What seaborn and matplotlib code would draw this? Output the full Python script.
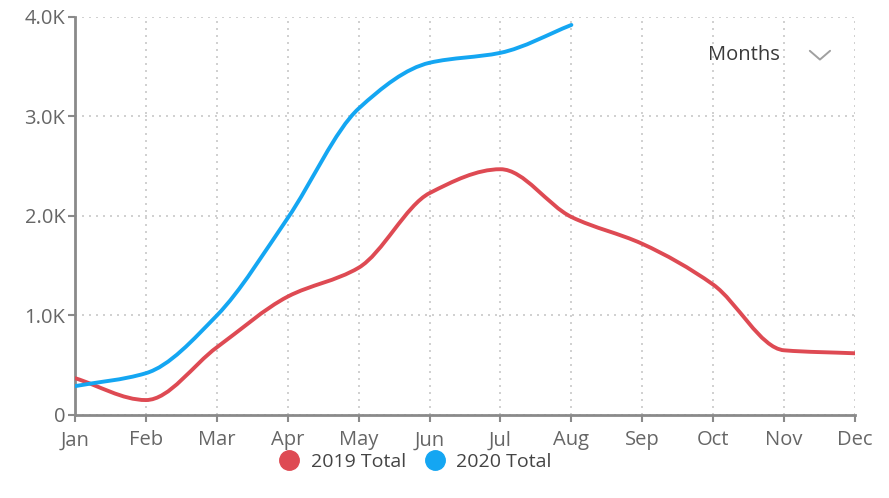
import numpy as np
import matplotlib
matplotlib.use("Agg")
import matplotlib.pyplot as plt
from matplotlib.path import Path
from matplotlib.patches import PathPatch
from matplotlib.lines import Line2D
import seaborn as sns

months = ["Jan", "Feb", "Mar", "Apr", "May", "Jun", "Jul", "Aug", "Sep", "Oct", "Nov", "Dec"]
total_2019 = [370, 150, 680, 1190, 1480, 2230, 2470, 1990, 1720, 1310, 650, 620]
total_2020 = [290, 420, 1000, 1980, 3080, 3540, 3640, 3920]
y_ticks = [0, 1000, 2000, 3000, 4000]
y_labels = ["0", "1.0K", "2.0K", "3.0K", "4.0K"]

RED = "#DE4A53"
BLUE = "#14A6F2"
GREY = "#8a8a8a"

sns.set_style("white")
plt.rcParams["font.family"] = ["Open Sans", "DejaVu Sans"]


def smooth_path(xs, ys):
    # monotone cubic (fritsch-carlson) drawn as bezier segments
    x = np.asarray(xs, float)
    y = np.asarray(ys, float)
    n = len(x)
    h = np.diff(x)
    d = np.diff(y) / h
    m = np.zeros(n)
    m[0], m[-1] = d[0], d[-1]
    for i in range(1, n - 1):
        if d[i - 1] * d[i] <= 0:
            m[i] = 0
        else:
            m[i] = 2 / (1 / d[i - 1] + 1 / d[i])
    verts = [(x[0], y[0])]
    codes = [Path.MOVETO]
    for i in range(n - 1):
        verts += [(x[i] + h[i] / 3, y[i] + m[i] * h[i] / 3),
                  (x[i + 1] - h[i] / 3, y[i + 1] - m[i + 1] * h[i] / 3),
                  (x[i + 1], y[i + 1])]
        codes += [Path.CURVE4] * 3
    return Path(verts, codes)


fig = plt.figure(figsize=(8.89, 4.98), dpi=100)
ax = fig.add_axes([0.0844, 0.1667, 0.8774, 0.7992])

for vals, col in [(total_2019, RED), (total_2020, BLUE)]:
    p = smooth_path(range(len(vals)), vals)
    ax.add_patch(PathPatch(p, facecolor="none", edgecolor=col, lw=2.8, capstyle="round", zorder=3))

ax.set_xlim(0, 11)
ax.set_ylim(0, 4000)
ax.set_xticks(range(len(months)))
ax.set_xticklabels(months)
ax.set_yticks(y_ticks)
ax.set_yticklabels(y_labels)

ax.grid(True, color="#c8c8c8", linestyle=(0, (1.2, 3)), linewidth=1.2)
for s in ["top", "right"]:
    ax.spines[s].set_visible(False)
for s in ["left", "bottom"]:
    ax.spines[s].set_color(GREY)
    ax.spines[s].set_linewidth(2)
ax.tick_params(axis="both", colors=GREY, labelcolor="#666666", labelsize=14.5,
               length=5, width=1.5, direction="out", left=True, bottom=True)
ax.tick_params(axis="y", pad=2)
ax.tick_params(axis="x", pad=6)

ax.text(0.858, 0.905, "Months", transform=ax.transAxes, fontsize=14.5, color="#3a3a3a",
        ha="center", va="center")
# dropdown chevron
ax.plot([0.942, 0.955, 0.968], [0.915, 0.893, 0.915], transform=ax.transAxes,
        color="#a0a0a0", lw=1.4, clip_on=False)

handles = [Line2D([], [], marker="o", ls="none", color=RED, markersize=14),
           Line2D([], [], marker="o", ls="none", color=BLUE, markersize=14)]
fig.legend(handles, ["2019 Total", "2020 Total"], loc="center", bbox_to_anchor=(0.462, 0.072),
           ncol=2, frameon=False, fontsize=14, handletextpad=0.1, columnspacing=0.5,
           labelcolor="#444444")

fig.savefig("out.png", dpi=100)
